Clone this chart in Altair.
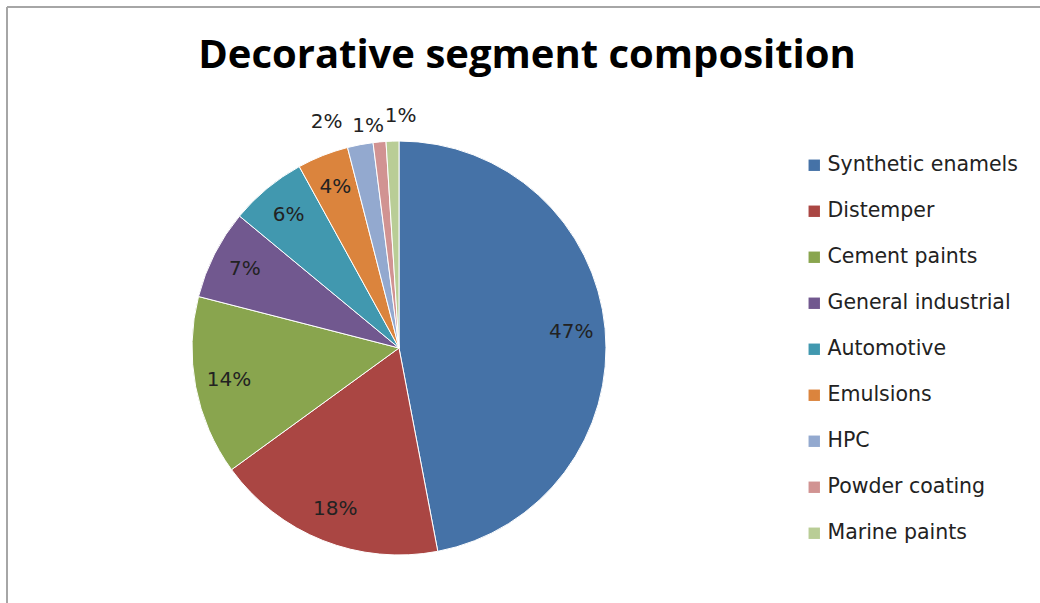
import altair as alt
import pandas as pd

TITLE = "Decorative segment composition"

categories = [
    "Synthetic enamels",
    "Distemper",
    "Cement paints",
    "General industrial",
    "Automotive",
    "Emulsions",
    "HPC",
    "Powder coating",
    "Marine paints",
]
shares = [47, 18, 14, 7, 6, 4, 2, 1, 1]
colors = [
    "#4572A7", "#AA4643", "#89A54E", "#71588F", "#4198AF",
    "#DB843D", "#93A9CF", "#D19392", "#B9CD96",
]

df = pd.DataFrame({
    "category": categories,
    "value": shares,
    "idx": list(range(len(categories))),
    "label": [f"{v}%" for v in shares],
})

CX, CY, R = 399, 348, 207
FONT = "DejaVu Sans"

base = (
    alt.Chart(df)
    .transform_window(cum="sum(value)", sort=[alt.SortField("idx")])
    .transform_joinaggregate(total="sum(value)")
    .transform_calculate(
        a0="2*PI*(datum.cum - datum.value)/datum.total",
        a1="2*PI*datum.cum/datum.total",
        mid="2*PI*(datum.cum - datum.value/2)/datum.total",
    )
)

pie = base.mark_arc(outerRadius=R, stroke="white", strokeWidth=1).encode(
    x=alt.value(CX),
    y=alt.value(CY),
    theta=alt.Theta("a0:Q", scale=None),
    theta2="a1:Q",
    color=alt.Color(
        "category:N",
        scale=alt.Scale(domain=categories, range=colors),
        legend=alt.Legend(
            title=None,
            orient="none",
            legendX=804,
            legendY=155,
            symbolType="square",
            symbolSize=130,
            symbolStrokeWidth=0,
            labelFont=FONT,
            labelFontSize=20.5,
            labelColor="#222222",
            labelOffset=3,
            rowPadding=25,
            padding=0,
            labelLimit=300,
        ),
    ),
    order=alt.Order("idx:Q"),
)

def slice_labels(radius, dx=0, dy=0, names=None):
    ch = base
    if names is not None:
        ch = ch.transform_filter(alt.FieldOneOfPredicate(field="category", oneOf=names))
    return ch.mark_text(
        radius=radius, dx=dx, dy=dy, font=FONT, fontSize=20,
        color="#222222", align="center", baseline="middle",
    ).encode(
        x=alt.value(CX),
        y=alt.value(CY),
        theta=alt.Theta("mid:Q", scale=None),
        text="label:N",
    )

inner = slice_labels(173, names=categories[:6])
outer_hpc = slice_labels(232, dx=-29, dy=2, names=["HPC"])
outer_powder = slice_labels(232, dx=-9, dy=9, names=["Powder coating"])
outer_marine = slice_labels(232, dx=9, dy=0, names=["Marine paints"])

head = pd.DataFrame({"t": [TITLE]})
title = alt.Chart(head).mark_text(
    font="Open Sans", fontSize=40, fontWeight="bold", color="#000000",
    align="center", baseline="alphabetic",
).encode(x=alt.value(527), y=alt.value(68), text="t:N")

# thin grey frame along the top and left edges
frame_top = alt.Chart(head).mark_rule(color="#a6a6a6", strokeWidth=2).encode(
    x=alt.value(7), x2=alt.value(1040), y=alt.value(7)
)
frame_left = alt.Chart(head).mark_rule(color="#a6a6a6", strokeWidth=2).encode(
    x=alt.value(7), y=alt.value(7), y2=alt.value(603)
)

chart = (
    alt.layer(frame_top, frame_left, pie, inner, outer_hpc, outer_powder, outer_marine, title)
    .properties(width=1040, height=603, padding=0, autosize="none", background="white")
    .configure_view(stroke="transparent", strokeWidth=0)
)

chart.save("out.html", embed_options={"renderer": "svg", "actions": False})
